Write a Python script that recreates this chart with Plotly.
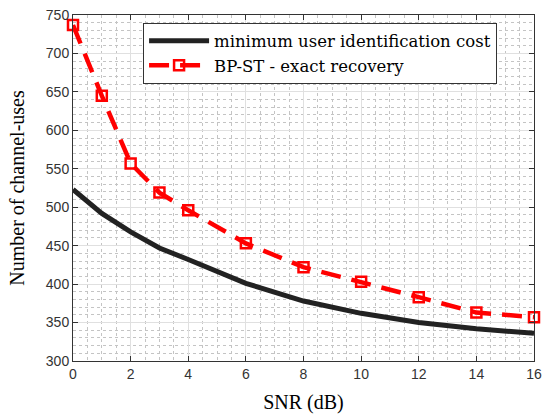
import plotly.graph_objects as go

snr = [0, 1, 2, 3, 4, 6, 8, 10, 12, 14, 16]
min_cost = [523, 492, 468, 447, 432, 401, 378, 362, 350, 342, 336]
bp_st = [737, 645, 557, 519, 496, 453, 422, 403, 383, 363, 357]

x_ticks = [0, 2, 4, 6, 8, 10, 12, 14, 16]
y_ticks = [300, 350, 400, 450, 500, 550, 600, 650, 700, 750]

fig = go.Figure()
fig.add_trace(go.Scatter(
    x=snr, y=min_cost, mode="lines",
    name="minimum user identification cost",
    line=dict(color="#222222", width=5),
    cliponaxis=False,
))
fig.add_trace(go.Scatter(
    x=snr, y=bp_st, mode="lines+markers",
    name="BP-ST - exact recovery",
    line=dict(color="#ff0000", width=4.5, dash="20px,11px"),
    marker=dict(symbol="square-open", size=10, color="#ff0000", line=dict(width=2.5)),
    cliponaxis=False,
))

axis_common = dict(
    showline=True, linecolor="#333333", linewidth=1, mirror="ticks",
    ticks="inside", ticklen=5, tickcolor="#333333",
    showgrid=True, gridcolor="#e0e0e0", gridwidth=1,
    zeroline=False, automargin=False,
    tickfont=dict(family="Liberation Sans, Arial", size=14, color="#333333"),
)

title_font = dict(family="Liberation Serif, Times New Roman", size=20, color="black")

fig.update_xaxes(
    range=[0, 16], tickvals=x_ticks,
    minor=dict(dtick=0.5, showgrid=True, gridcolor="#c4c4c4", griddash="dot", gridwidth=1),
    title=dict(text="SNR (dB)", font=title_font),
    **axis_common,
)
fig.update_yaxes(
    range=[300, 750], tickvals=y_ticks,
    minor=dict(dtick=10, showgrid=True, gridcolor="#c4c4c4", griddash="dot", gridwidth=1),
    title=dict(text="Number of channel-uses", font=title_font),
    **axis_common,
)

fig.update_layout(
    width=551, height=414,
    margin=dict(l=73, r=17, t=15, b=53),
    plot_bgcolor="white", paper_bgcolor="white",
    legend=dict(
        x=0.152, y=0.978, xanchor="left", yanchor="top",
        bgcolor="white", bordercolor="#333333", borderwidth=1,
        font=dict(family="DejaVu Serif", size=16.5, color="black"),
        tracegroupgap=0, itemwidth=60,
    ),
)

fig.write_html(
    "out.html",
    config={"displayModeBar": False},
    post_script="document.body.style.margin='0';document.body.style.overflow='hidden';",
)
